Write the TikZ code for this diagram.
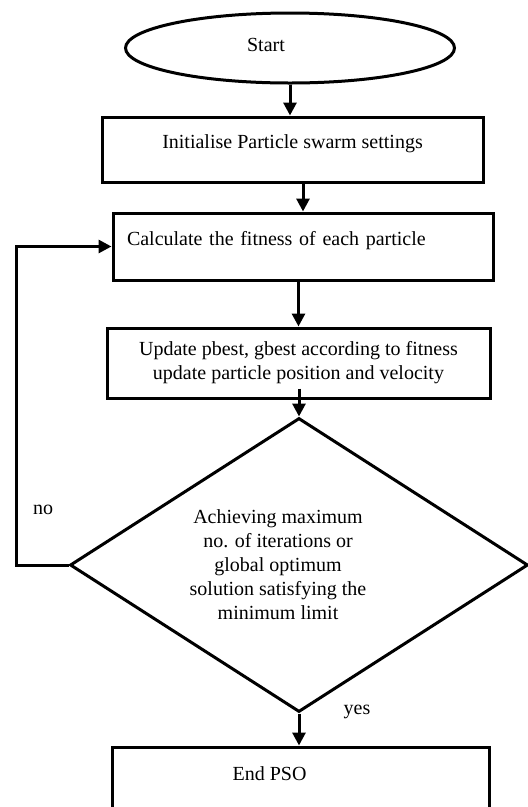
\documentclass[tikz,border=0pt]{standalone}
\usepackage{fontspec}
\setmainfont{Liberation Serif}
\usepackage{tikz}
\usetikzlibrary{shapes.geometric, arrows.meta}
\tikzstyle{arrow}   = [line width=3pt,->,>={Triangle[width=13pt,length=13pt]}]
\tikzstyle{stepbox} = [draw, line width=3pt, rectangle, inner ysep=0pt]
\tikzstyle{txt}     = [font=\fontsize{20}{24}\selectfont]

\begin{document}
\begin{tikzpicture}[x=1pt, y=-1pt, every node/.style={txt}, every label/.style={txt, align=center}]
  \clip (0,0) rectangle (528,807);
  \useasboundingbox (0,0) rectangle (528,807);

  %terminal and process boxes
  \node[ellipse, draw, line width=3pt, minimum width=329pt, minimum height=70pt,
        label={[xshift=-24pt, yshift=3pt]center:Start}] (start) at (290,48) {};
  \node[stepbox, minimum width=381pt, text height=31pt, text depth=34pt] (init) at (292.5,149.5)
        {Initialise Particle swarm settings};
  \node[stepbox, text width=352pt, inner xsep=14pt, align=left, text height=32pt, text depth=35pt] (calc) at (303,246.5)
        {Calculate the fitness of each particle};
  \node[stepbox, minimum width=383pt, minimum height=70pt, align=center] (upd) at (298.5,363)
        {Update pbest, gbest according to fitness\\update particle position and velocity};

  %decision
  \node[diamond, draw, line width=3pt, minimum width=458pt, minimum height=294pt, inner sep=0pt,
        label={[xshift=-21pt]center:Achieving maximum\\no. of iterations or\\global optimum\\solution satisfying the\\minimum limit}]
        (check) at (299,565) {};

  \node[stepbox, minimum width=377pt, minimum height=100pt,
        label={[xshift=-31pt, yshift=23pt]center:End PSO}] (finish) at (300.5,797) {};

  %connectors
  \draw[arrow] (start.south) -- (start.south |- init.north);
  \draw[arrow] (calc.north |- init.south) -- (calc.north);
  \draw[arrow] (upd.north |- calc.south) -- (upd.north);
  \draw[arrow] ([yshift=11pt]check.north |- upd.south) -- (check.north);
  \draw[arrow] (check.south) -- (check.south |- finish.north);
  \draw[arrow] (check.west) -- ++(-52,0) |- (calc.west);

  \node (no) at (43,510) {no};
  \node (yes) at (357,712) {yes};
\end{tikzpicture}
\end{document}
